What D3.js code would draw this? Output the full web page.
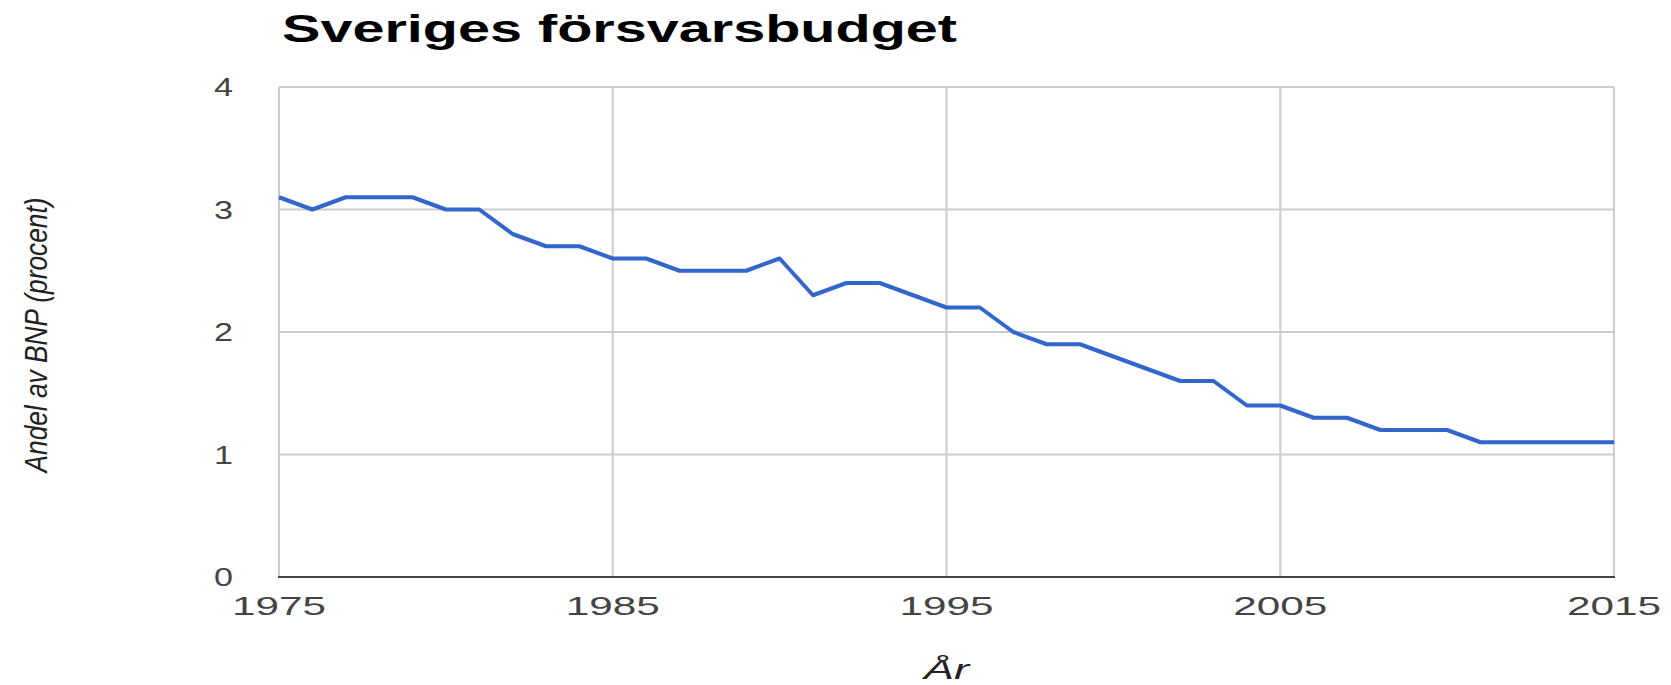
<!DOCTYPE html>
<html>
<head>
<meta charset="utf-8">
<script src="https://cdn.jsdelivr.net/npm/d3@7"></script>
<style>
  body { margin: 0; background: #fff; }
  text { font-family: "Liberation Sans", Arial, sans-serif; }
</style>
</head>
<body>
<script>

var years = [1975, 1976, 1977, 1978, 1979, 1980, 1981, 1982, 1983, 1984,
             1985, 1986, 1987, 1988, 1989, 1990, 1991, 1992, 1993, 1994,
             1995, 1996, 1997, 1998, 1999, 2000, 2001, 2002, 2003, 2004,
             2005, 2006, 2007, 2008, 2009, 2010, 2011, 2012, 2013, 2014, 2015];
var andel = [3.1, 3.0, 3.1, 3.1, 3.1, 3.0, 3.0, 2.8, 2.7, 2.7,
             2.6, 2.6, 2.5, 2.5, 2.5, 2.6, 2.3, 2.4, 2.4, 2.3,
             2.2, 2.2, 2.0, 1.9, 1.9, 1.8, 1.7, 1.6, 1.6, 1.4,
             1.4, 1.3, 1.3, 1.2, 1.2, 1.2, 1.1, 1.1, 1.1, 1.1, 1.1];
var xTicks = [1975, 1985, 1995, 2005, 2015];
var yTicks = [0, 1, 2, 3, 4];

var w = 1671, h = 685;
// note: "top" is taken by window.top, so plot edges get their own names
var plotLeft = 279, plotRight = 1614, plotTop = 87, plotBottom = 577;

var svg = d3.select("body").append("svg")
  .attr("width", w)
  .attr("height", h);

var x = d3.scaleLinear().domain([1975, 2015]).range([plotLeft, plotRight]);
var y = d3.scaleLinear().domain([0, 4]).range([plotBottom, plotTop]);

// gridlines
svg.selectAll("line.hgrid")
  .data(yTicks)
  .enter()
  .append("line")
  .attr("class", "hgrid")
  .attr("x1", plotLeft).attr("x2", plotRight)
  .attr("y1", function(d) { return y(d); })
  .attr("y2", function(d) { return y(d); })
  .attr("stroke", "#cccccc")
  .attr("stroke-width", 2);

svg.selectAll("line.vgrid")
  .data(xTicks)
  .enter()
  .append("line")
  .attr("class", "vgrid")
  .attr("y1", plotTop).attr("y2", plotBottom)
  .attr("x1", function(d) { return x(d); })
  .attr("x2", function(d) { return x(d); })
  .attr("stroke", "#cccccc")
  .attr("stroke-width", 2);

// baseline
svg.append("line")
  .attr("x1", plotLeft - 1).attr("x2", plotRight + 1)
  .attr("y1", y(0)).attr("y2", y(0))
  .attr("stroke", "#444")
  .attr("stroke-width", 2);

// the series
var line = d3.line()
  .x(function(d, i) { return x(years[i]); })
  .y(function(d) { return y(d); });

svg.append("path")
  .datum(andel)
  .attr("d", line)
  .attr("fill", "none")
  .attr("stroke", "#3366cc")
  .attr("stroke-width", 4)
  .attr("stroke-linejoin", "round");

// y tick labels
svg.selectAll("text.ytick")
  .data(yTicks)
  .enter()
  .append("text")
  .attr("class", "ytick")
  .text(function(d) { return d; })
  .attr("x", 233)
  .attr("y", function(d) { return y(d) + 9; })
  .attr("text-anchor", "end")
  .attr("font-size", "26px")
  .attr("fill", "#444")
  .attr("textLength", 19)
  .attr("lengthAdjust", "spacingAndGlyphs");

// x tick labels
svg.selectAll("text.xtick")
  .data(xTicks)
  .enter()
  .append("text")
  .attr("class", "xtick")
  .text(function(d) { return d; })
  .attr("x", function(d) { return x(d) - 47; })
  .attr("y", 615)
  .attr("font-size", "26px")
  .attr("fill", "#444")
  .attr("textLength", 94)
  .attr("lengthAdjust", "spacingAndGlyphs");

// title
svg.append("text")
  .text("Sveriges försvarsbudget")
  .attr("x", 282)
  .attr("y", 42)
  .attr("font-size", "39px")
  .attr("font-weight", "bold")
  .attr("fill", "#000")
  .attr("textLength", 675)
  .attr("lengthAdjust", "spacingAndGlyphs");

// axis titles
svg.append("text")
  .text("År")
  .attr("x", (plotLeft + plotRight) / 2)
  .attr("y", 679)
  .attr("text-anchor", "middle")
  .attr("font-size", "27px")
  .attr("font-style", "italic")
  .attr("fill", "#222")
  .attr("textLength", 45)
  .attr("lengthAdjust", "spacingAndGlyphs");

svg.append("text")
  .text("Andel av BNP (procent)")
  .attr("transform", "translate(47," + 335 + ") rotate(-90)")
  .attr("text-anchor", "middle")
  .attr("font-size", "31px")
  .attr("font-style", "italic")
  .attr("fill", "#222")
  .attr("textLength", 275)
  .attr("lengthAdjust", "spacingAndGlyphs");

</script>
</body>
</html>
